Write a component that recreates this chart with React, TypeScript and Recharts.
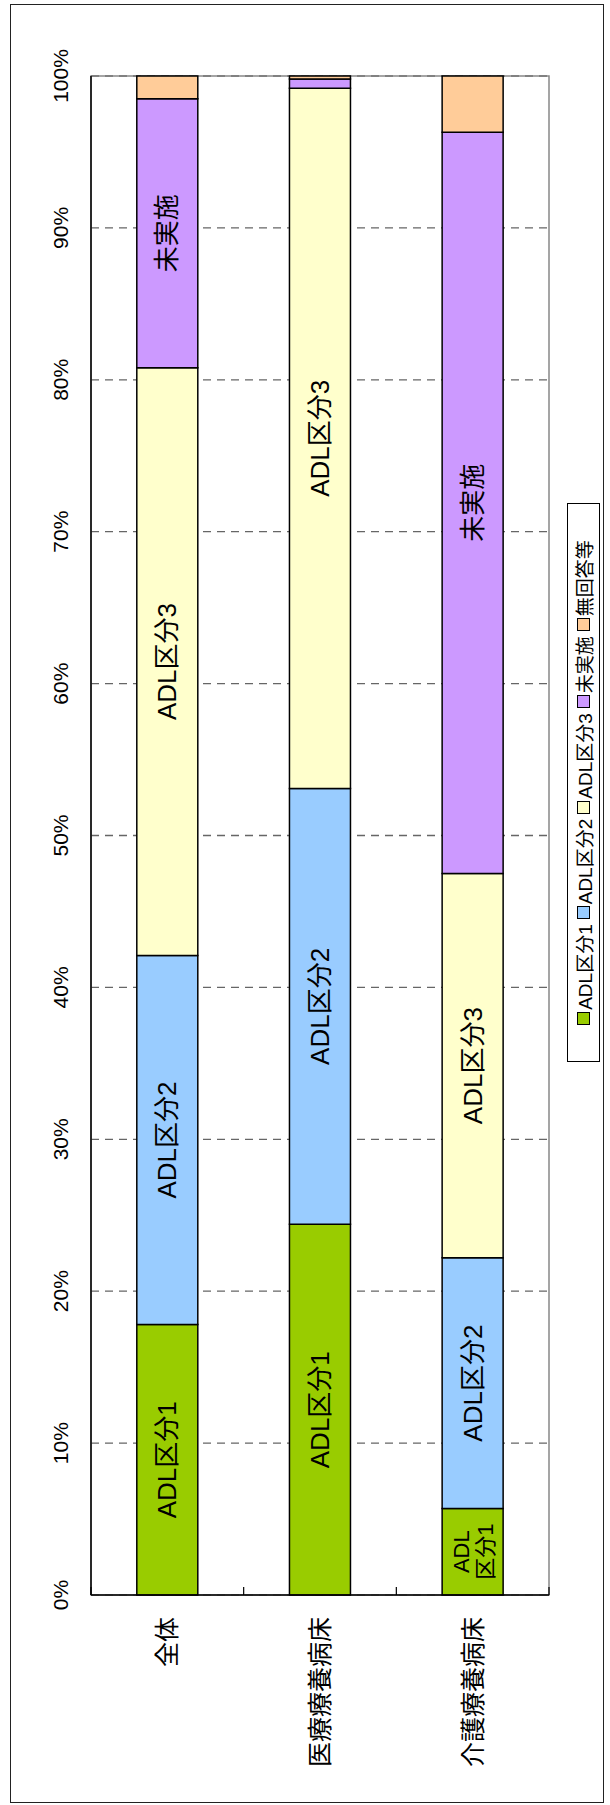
import { BarChart, Bar, XAxis, YAxis, CartesianGrid, LabelList, ReferenceArea } from "recharts";

const categories = ["全体", "医療療養病床", "介護療養病床"];
const adl1 = [17.8, 24.4, 5.7];
const adl2 = [24.3, 28.7, 16.5];
const adl3 = [38.7, 46.1, 25.3];
const notDone = [17.7, 0.6, 48.8];
const noAnswer = [1.5, 0.2, 3.7];

const adl1Labels = ["ADL区分1", "ADL区分1", "ADL\n区分1"];
const adl2Labels = ["ADL区分2", "ADL区分2", "ADL区分2"];
const adl3Labels = ["ADL区分3", "ADL区分3", "ADL区分3"];
const notDoneLabels = ["未実施", "", "未実施"];

const percentTicks = [0, 10, 20, 30, 40, 50, 60, 70, 80, 90, 100];

const SERIES = [
  { key: "adl1", name: "ADL区分1", color: "#99CC00" },
  { key: "adl2", name: "ADL区分2", color: "#99CCFF" },
  { key: "adl3", name: "ADL区分3", color: "#FFFFCC" },
  { key: "notDone", name: "未実施", color: "#CC99FF" },
  { key: "noAnswer", name: "無回答等", color: "#FFCC99" },
];

const data = categories.map((name, i) => ({
  name,
  adl1: adl1[i],
  adl2: adl2[i],
  adl3: adl3[i],
  notDone: notDone[i],
  noAnswer: noAnswer[i],
  adl1Label: adl1Labels[i],
  adl2Label: adl2Labels[i],
  adl3Label: adl3Labels[i],
  notDoneLabel: notDoneLabels[i],
}));

const FONT = "'Liberation Sans', Arial, 'Noto Sans CJK JP', sans-serif";
const CAT_MARGIN = 22;

// label inside a bar segment, "\n" splits lines
const SegmentLabel = (props: any) => {
  const vb = props.viewBox ?? props;
  const { x, y, width, height } = vb;
  const value: string = props.value ?? "";
  if (!value) return null;
  const lines = value.split("\n");
  const cx = x + width / 2;
  const cy = y + height / 2;
  const lh = 24;
  const start = cy - ((lines.length - 1) * lh) / 2;
  return (
    <text
      textAnchor="middle"
      dominantBaseline="central"
      fontSize={lines.length > 1 ? 22 : 26}
      fontFamily={FONT}
      fill="#000"
    >
      {lines.map((l, i) => (
        <tspan key={i} x={cx} y={start + i * lh}>
          {l}
        </tspan>
      ))}
    </text>
  );
};

// category label plus small tick marks on band edges
const CategoryTick = (props: any) => {
  const { x, y, payload, index, visibleTicksCount } = props;
  const half = payload?.offset ?? 0;
  const axisX = x + CAT_MARGIN;
  return (
    <g>
      <text
        x={x}
        y={y}
        textAnchor="end"
        dominantBaseline="central"
        fontSize={25}
        fontFamily={FONT}
        fill="#000"
      >
        {payload.value}
      </text>
      <line x1={axisX} x2={axisX + 8} y1={y - half} y2={y - half} stroke="#000" strokeWidth={1.2} />
      {index === visibleTicksCount - 1 && (
        <line x1={axisX} x2={axisX + 8} y1={y + half} y2={y + half} stroke="#000" strokeWidth={1.2} />
      )}
    </g>
  );
};

const App = () => {
  return (
    <div style={{ position: "absolute", left: 0, top: 0, width: 610, height: 1805, background: "#fff" }}>
      <div
        style={{
          position: "absolute",
          left: 10,
          top: 4,
          width: 592,
          height: 1797,
          border: "1.5px solid #222",
        }}
      />
      <div
        style={{
          position: "absolute",
          left: 0,
          top: 0,
          width: 1805,
          height: 610,
          transform: "translateY(1805px) rotate(-90deg)",
          transformOrigin: "0 0",
        }}
      >
        <BarChart
          width={1805}
          height={610}
          data={data}
          layout="vertical"
          barCategoryGap="30%"
          margin={{ top: 0, right: 76, bottom: 61, left: 0 }}
          style={{ fontFamily: FONT }}
        >
          <ReferenceArea x1={0} x2={100} fill="none" stroke="#888" strokeWidth={1.5} />
          <CartesianGrid horizontal={false} stroke="#666" strokeDasharray="8 6" strokeWidth={1.3} />
          <XAxis
            type="number"
            orientation="top"
            domain={[0, 100]}
            ticks={percentTicks}
            tickFormatter={(v) => `${v}%`}
            height={91}
            tickLine={false}
            tickSize={0}
            tickMargin={23}
            axisLine={{ stroke: "#000", strokeWidth: 1.5 }}
            tick={{ fontSize: 21, fill: "#000", fontFamily: FONT }}
          />
          <YAxis
            type="category"
            dataKey="name"
            width={210}
            tickLine={false}
            tickSize={0}
            tickMargin={CAT_MARGIN}
            axisLine={{ stroke: "#000", strokeWidth: 1.5 }}
            tick={<CategoryTick />}
          />
          {SERIES.map((s) => (
            <Bar
              key={s.key}
              dataKey={s.key}
              name={s.name}
              stackId="a"
              fill={s.color}
              stroke="#000"
              strokeWidth={1.5}
              isAnimationActive={false}
            >
              {s.key !== "noAnswer" && (
                <LabelList dataKey={`${s.key}Label`} content={<SegmentLabel />} />
              )}
            </Bar>
          ))}
        </BarChart>
        {/* legend box */}
        <div
          style={{
            position: "absolute",
            left: 743,
            top: 567,
            width: 559,
            height: 33,
            boxSizing: "border-box",
            border: "1px solid #000",
            display: "flex",
            alignItems: "center",
            justifyContent: "center",
            whiteSpace: "nowrap",
            fontFamily: FONT,
            fontSize: 19,
            color: "#000",
            background: "#fff",
          }}
        >
          {SERIES.map((s, i) => (
            <span
              key={s.key}
              style={{ display: "flex", alignItems: "center", marginRight: i < SERIES.length - 1 ? 5 : 0 }}
            >
              <span
                style={{
                  width: 11,
                  height: 11,
                  border: "1px solid #000",
                  background: s.color,
                  marginRight: 2,
                  display: "inline-block",
                }}
              />
              {s.name}
            </span>
          ))}
        </div>
      </div>
    </div>
  );
};

export default App;
